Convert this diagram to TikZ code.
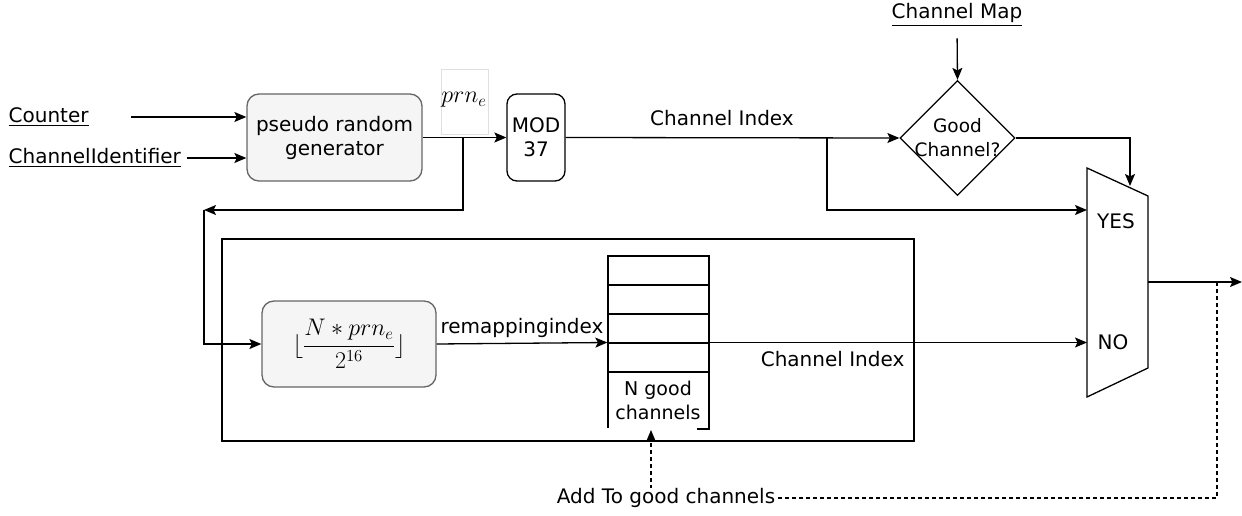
\RequirePackage{fix-cm}
\documentclass[tikz,border=0pt]{standalone}
\usepackage[no-math]{fontspec}
\usepackage{amsmath}
\setmainfont{DejaVu Sans}
\usetikzlibrary{arrows.meta,shapes.geometric,calc}
\begin{document}
\begin{tikzpicture}[x=1pt,y=-1pt,
  line width=1.3pt,
  arr/.style={-{Stealth[length=12pt,width=10pt,inset=2.5pt]}},
  txt/.style={font=\fontsize{20}{24}\selectfont, inner sep=1pt},
  smalltxt/.style={font=\fontsize{19}{24}\selectfont, inner sep=1pt, align=center},
  mathtxt/.style={font=\fontsize{24}{28}\selectfont, inner sep=0pt},
  procbox/.style={draw=black!60, fill=black!4, rounded corners=12pt, align=center, inner sep=0pt},
  modbox/.style={draw, rounded corners=10pt, align=center, inner sep=0pt, font=\fontsize{20}{24}\selectfont},
  dashedline/.style={line width=1.1pt, dash pattern=on 4pt off 3pt}
]
\useasboundingbox (0,0) rectangle (1242,516);

% inputs
\node[txt, anchor=west] (counter) at (7,117) {\underline{Counter}};
\node[txt, anchor=west] (chid) at (7,158) {\underline{ChannelIdentifier}};
\coordinate (cstart) at (131,117);

% pseudo random generator
\node[procbox, font=\fontsize{20}{24}\selectfont, minimum width=175pt, minimum height=87pt] (prg) at (334.5,137.5) {pseudo random\\generator};

% prn label
\node[draw=black!12, line width=0.6pt, minimum width=47pt, minimum height=65pt, inner sep=0pt] (prnbox) at (464.5,101.5) {};
\node[mathtxt] (prn) at (464,100) {$prn_e$};

% MOD 37
\node[modbox, minimum width=58pt, minimum height=87pt] (mod) at (536,137.5) {MOD\\37};

% Good channel diamond
\node[diamond, draw, aspect=1, minimum width=115pt, minimum height=115pt, inner sep=0pt] (good) at (957.5,138) {};
\node[font=\fontsize{18.5}{24}\selectfont, align=center, inner sep=0pt] (goodtxt) at (good.center) {Good\\Channel?};
\node[txt] (chmap) at (957,15) {\underline{Channel Map}};

% multiplexer
\draw (1087,168) -- (1148,196) -- (1148,368) -- (1087,397) -- cycle;
\coordinate (yesin) at (1087,210);
\coordinate (noin) at (1087,342.5);
\coordinate (muxtop) at (1130,186);
\coordinate (muxout) at (1148,282);
\coordinate (outend) at (1242,282);
\node[txt] (yes) at (1116,221) {YES};
\node[txt] (no) at (1113,342) {NO};

% big frame
\draw (222,239) rectangle (914,441);

% remap formula box
\node[procbox, mathtxt, minimum width=174pt, minimum height=86pt] (remap) at (349,344) {$\lfloor\dfrac{N*prn_e}{2^{16}}\rfloor$};

% list of good channels
\node[minimum width=101pt, minimum height=173pt, inner sep=0pt] (list) at (658.5,342.5) {};
\foreach \ya/\yb in {256/285,285/314,314/343,343/372}
  \draw (608,\ya) rectangle (709,\yb);
\draw (608,372) -- (608,428);
\draw (709,372) -- (709,429) -- (697,429);
\node[smalltxt] (ngood) at (658,400) {N good\\channels};
\coordinate (listbot) at (651,430);

% connectors
\draw[arr] (cstart) -- (cstart -| prg.west);
\draw[arr] (chid.east) ++(4,0) -- (chid.east -| prg.west);
\draw[arr] (prg.east |- mod.west) -- (mod.west);
\coordinate (b1) at (463,138);
\coordinate (corner) at (204,210);
\draw[arr] (b1) |- (corner);
\draw[arr] (corner) |- (remap.west);
\draw[arr] (mod.east) -- (good.west);
\node[txt] (ci1) at (722,118) {Channel Index};
\coordinate (b2) at (827,138);
\draw[arr] (b2) |- (yesin);
\draw[arr, shorten <=10pt] (chmap.south) -- (good.north);
\draw[arr] (good.east) -| (muxtop);
\draw[arr] (remap.east) -- (list.west) node[txt, midway, above=4pt] (rix) {remappingindex};
\draw[arr] (list.east) -- (noin);
\node[txt, anchor=east] (ci2) at (906,359) {Channel Index};
\draw[arr] (muxout) -- (outend);
\coordinate (b3) at (1217,282);
\draw[arr, dashedline] (b3) |- (listbot |- 0,498) -- (listbot);
\node[txt, fill=white, inner sep=0pt] (addlbl) at (666,498) {Add To good channels};
\end{tikzpicture}
\end{document}
